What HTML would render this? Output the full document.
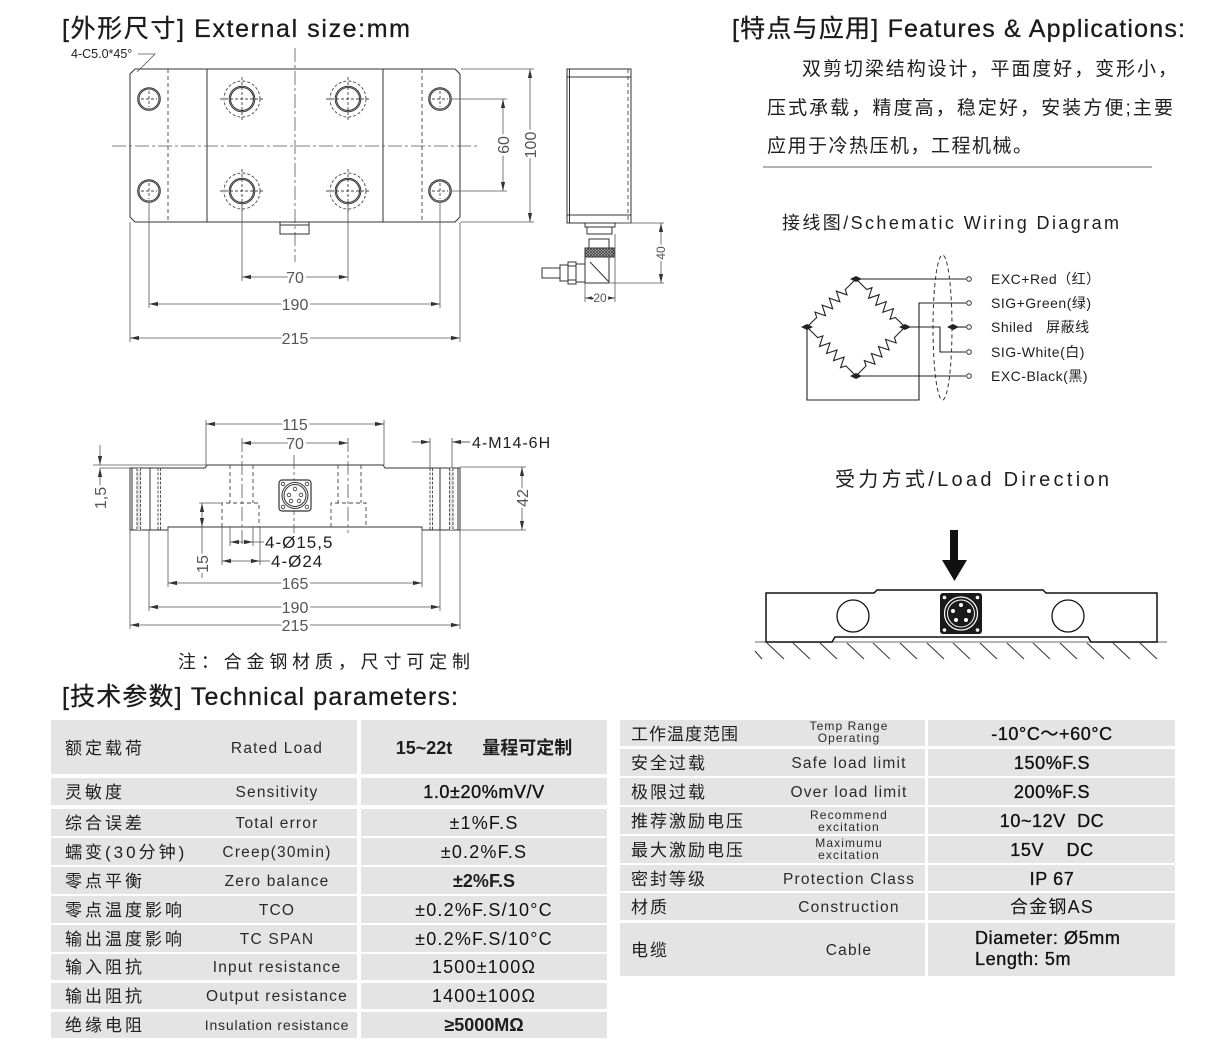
<!DOCTYPE html>
<html><head><meta charset="utf-8">
<style>
html,body{margin:0;padding:0;background:#fff;}
svg{display:block;}
text{font-family:"Liberation Sans","Noto Sans CJK SC",sans-serif;fill:#1e1e1e;}
.d{font-size:16px;fill:#555;paint-order:stroke;stroke:#fff;stroke-width:5px;stroke-linejoin:round;}
.ds{font-size:12px;fill:#555;paint-order:stroke;stroke:#fff;stroke-width:4px;}
.ln{stroke:#333;stroke-width:1;fill:none;}
.dm{stroke:#555;stroke-width:0.8;fill:none;}
.dash{stroke:#444;stroke-width:0.9;fill:none;stroke-dasharray:4 3;}
.cl{stroke:#555;stroke-width:0.8;fill:none;stroke-dasharray:14 3 3 3;}
.cell{fill:#e4e4e4;}
.cn{font-size:17px;letter-spacing:3px;}
.cnr{font-size:17px;letter-spacing:2px;}
.en{font-size:15.5px;letter-spacing:1.2px;fill:#2a2a2a;}
.va{font-size:18px;letter-spacing:1.2px;fill:#111;}
.vb{font-size:18px;letter-spacing:0.6px;fill:#111;stroke:#111;stroke-width:0.35px;}
.sm{font-size:12px;letter-spacing:1.1px;fill:#2a2a2a;}
.w{font-size:14px;letter-spacing:0.5px;fill:#1e1e1e;}
.tt{font-size:25px;fill:#1a1a1a;stroke:#1a1a1a;stroke-width:0.3px;}
</style></head><body>
<svg width="1221" height="1041" viewBox="0 0 1221 1041" xmlns="http://www.w3.org/2000/svg">
<defs>
<marker id="ar" markerWidth="9" markerHeight="6" refX="9" refY="3" orient="auto-start-reverse" markerUnits="userSpaceOnUse"><path d="M0,0.9 L9,3 L0,5.1z" fill="#333"/></marker>
<pattern id="kn" width="3" height="3" patternUnits="userSpaceOnUse"><rect width="3" height="3" fill="#bbb"/><path d="M0,0 L3,3 M3,0 L0,3" stroke="#333" stroke-width="0.7"/></pattern>
</defs>

<!-- ===== Titles ===== -->
<text class="tt" x="62" y="37" textLength="348">[外形尺寸] External size:mm</text>
<text class="tt" x="732" y="37" textLength="453">[特点与应用] Features &amp; Applications:</text>
<text class="tt" x="62" y="705" textLength="396">[技术参数] Technical parameters:</text>

<!-- ===== Features text ===== -->
<text x="802" y="75" font-size="19" textLength="375">双剪切梁结构设计，平面度好，变形小，</text>
<text x="767" y="114" font-size="19" textLength="406">压式承载，精度高，稳定好，安装方便;主要</text>
<text x="767" y="152" font-size="19" textLength="265">应用于冷热压机，工程机械。</text>
<line x1="763" y1="167" x2="1152" y2="167" stroke="#999" stroke-width="1.5"/>

<!-- ===== Top view ===== -->
<path class="ln" d="M135,69 H455 L460,74 V217 L455,222 H135 L130,217 V74 Z"/>
<line class="dash" x1="168" y1="69" x2="168" y2="222"/>
<line class="ln" x1="207" y1="69" x2="207" y2="222"/>
<line class="ln" x1="383" y1="69" x2="383" y2="222"/>
<line class="dash" x1="422" y1="69" x2="422" y2="222"/>
<line class="cl" x1="112" y1="146" x2="478" y2="146"/>
<line class="cl" x1="295" y1="48" x2="295" y2="262"/>
<g class="ln">
<circle cx="149" cy="99" r="10"/><circle cx="149" cy="99" r="11.3"/>
<circle cx="440" cy="99" r="10"/><circle cx="440" cy="99" r="11.3"/>
<circle cx="149" cy="191" r="10"/><circle cx="149" cy="191" r="11.3"/>
<circle cx="440" cy="191" r="10"/><circle cx="440" cy="191" r="11.3"/>
</g>
<g class="dash" style="stroke-dasharray:3 2">
<path d="M141,99 H157 M149,91 V107 M432,99 H448 M440,91 V107 M141,191 H157 M149,183 V199 M432,191 H448 M440,183 V199"/>
</g>
<g class="ln">
<circle cx="242" cy="99" r="11.5"/><circle cx="242" cy="99" r="12.8"/>
<circle cx="348" cy="99" r="11.5"/><circle cx="348" cy="99" r="12.8"/>
<circle cx="242" cy="191" r="11.5"/><circle cx="242" cy="191" r="12.8"/>
<circle cx="348" cy="191" r="11.5"/><circle cx="348" cy="191" r="12.8"/>
</g>
<g class="dash" style="stroke-dasharray:3 2">
<circle cx="242" cy="99" r="18"/><circle cx="348" cy="99" r="18"/>
<circle cx="242" cy="191" r="18"/><circle cx="348" cy="191" r="18"/>
<path d="M220,99 H264 M242,77 V121 M326,99 H370 M348,77 V121 M220,191 H264 M242,169 V213 M326,191 H370 M348,169 V213"/>
</g>
<rect class="ln" x="280" y="222" width="29" height="12"/>
<line class="ln" x1="280" y1="225" x2="309" y2="225"/>
<text x="71" y="58" font-size="12.5" fill="#555">4-C5.0*45°</text>
<polyline class="dm" points="138,54 155,54 137,72"/>
<g class="dm">
<line x1="242" y1="205" x2="242" y2="281"/><line x1="348" y1="205" x2="348" y2="281"/>
<line x1="149" y1="203" x2="149" y2="308"/><line x1="440" y1="203" x2="440" y2="308"/>
<line x1="130" y1="222" x2="130" y2="342"/><line x1="460" y1="222" x2="460" y2="342"/>
<line x1="452" y1="99" x2="507" y2="99"/><line x1="452" y1="191" x2="507" y2="191"/>
<line x1="461" y1="69" x2="534" y2="69"/><line x1="461" y1="222" x2="534" y2="222"/>
</g>
<g class="dm" marker-start="url(#ar)" marker-end="url(#ar)">
<line x1="242" y1="277" x2="348" y2="277"/>
<line x1="149" y1="304" x2="440" y2="304"/>
<line x1="130" y1="338" x2="460" y2="338"/>
<line x1="503" y1="99" x2="503" y2="191"/>
<line x1="530" y1="69" x2="530" y2="222"/>
</g>
<text class="d" x="295" y="283" text-anchor="middle">70</text>
<text class="d" x="295" y="310" text-anchor="middle">190</text>
<text class="d" x="295" y="344" text-anchor="middle">215</text>
<text class="d" transform="translate(509,145) rotate(-90)" text-anchor="middle">60</text>
<text class="d" transform="translate(536,145) rotate(-90)" text-anchor="middle">100</text>

<!-- ===== Side view ===== -->
<rect class="ln" x="567" y="69" width="64" height="154"/>
<line class="ln" x1="567" y1="77" x2="631" y2="77"/>
<line class="ln" x1="567" y1="215" x2="631" y2="215"/>
<line class="ln" x1="569.5" y1="69" x2="569.5" y2="223"/>
<line class="dash" x1="628" y1="69" x2="628" y2="223"/>
<rect class="ln" x="585" y="223" width="30" height="4"/>
<rect class="ln" x="587" y="227" width="25" height="7"/>
<rect class="ln" x="589" y="239" width="20" height="9"/>
<rect x="585" y="248" width="29" height="9" fill="url(#kn)" stroke="#333" stroke-width="1"/>
<rect class="ln" x="585" y="257" width="24" height="26"/>
<line class="ln" x1="590" y1="262" x2="609" y2="282"/>
<rect class="ln" x="576" y="264" width="9" height="18"/>
<rect class="ln" x="568" y="262" width="8" height="22"/>
<line class="ln" x1="568" y1="266" x2="576" y2="266"/><line class="ln" x1="568" y1="280" x2="576" y2="280"/>
<rect class="ln" x="560" y="265" width="8" height="16"/>
<rect class="ln" x="542" y="268" width="18" height="10"/>
<g class="dm">
<line x1="585" y1="283" x2="585" y2="302"/>
<line x1="615" y1="234" x2="615" y2="302"/>
<line x1="616" y1="223" x2="664" y2="223"/>
<line x1="610" y1="283" x2="664" y2="283"/>
</g>
<g class="dm" marker-start="url(#ar)" marker-end="url(#ar)">
<line x1="585" y1="298" x2="615" y2="298"/>
<line x1="661" y1="223" x2="661" y2="283"/>
</g>
<text class="ds" x="600" y="302" text-anchor="middle">20</text>
<text class="ds" transform="translate(665,253) rotate(-90)" text-anchor="middle">40</text>

<!-- ===== Bottom (front) view ===== -->
<path class="ln" d="M130,468 H205 L207,465 H383 L385,468 H460 V530 H422 V527 H168 V530 H130 Z"/>
<line class="ln" x1="132" y1="468" x2="132" y2="530"/>
<line class="ln" x1="458" y1="468" x2="458" y2="530"/>
<rect x="136.5" y="468" width="4" height="62" fill="#e2e2e2"/>
<rect x="449.5" y="468" width="4" height="62" fill="#e2e2e2"/>
<g class="dash" style="stroke-dasharray:3 1.5">
<line x1="137" y1="468" x2="137" y2="530"/><line x1="140.5" y1="468" x2="140.5" y2="530"/>
<line x1="158" y1="468" x2="158" y2="530"/><line x1="160.5" y1="468" x2="160.5" y2="530"/>
<line x1="430" y1="468" x2="430" y2="530"/><line x1="432.5" y1="468" x2="432.5" y2="530"/>
<line x1="449.5" y1="468" x2="449.5" y2="530"/><line x1="453" y1="468" x2="453" y2="530"/>
</g>
<line class="ln" x1="150" y1="468" x2="150" y2="530"/>
<line class="ln" x1="440" y1="468" x2="440" y2="530"/>
<g class="dash">
<line x1="230" y1="465" x2="230" y2="503"/><line x1="253" y1="465" x2="253" y2="503"/>
<path d="M222,527 V503 H259 V527"/>
<line x1="338" y1="465" x2="338" y2="503"/><line x1="361" y1="465" x2="361" y2="503"/>
<path d="M331,527 V503 H366 V527"/>
</g>
<line class="cl" x1="242" y1="438" x2="242" y2="547"/>
<line class="cl" x1="348" y1="438" x2="348" y2="533"/>
<line class="cl" x1="294" y1="455" x2="294" y2="533"/>
<rect x="279" y="480" width="32" height="31" rx="3" fill="#fff" stroke="#333" stroke-width="1.2"/>
<circle cx="295" cy="495.5" r="13" fill="none" stroke="#333" stroke-width="1"/>
<circle cx="295" cy="495.5" r="11" fill="none" stroke="#333" stroke-width="1"/>
<g fill="none" stroke="#333" stroke-width="0.8">
<circle cx="295" cy="489" r="1.8"/><circle cx="289" cy="495" r="1.8"/><circle cx="301" cy="495" r="1.8"/>
<circle cx="291" cy="501" r="1.8"/><circle cx="299" cy="501" r="1.8"/>
<circle cx="283" cy="484" r="1.8"/><circle cx="307" cy="484" r="1.8"/><circle cx="283" cy="507" r="1.8"/><circle cx="307" cy="507" r="1.8"/>
</g>
<g class="dm">
<line x1="206" y1="420" x2="206" y2="465"/><line x1="384" y1="420" x2="384" y2="465"/>
<line x1="430" y1="438" x2="430" y2="468"/><line x1="452" y1="438" x2="452" y2="468"/>
<line x1="452" y1="442" x2="470" y2="442"/>
<line x1="93" y1="465" x2="206" y2="465"/>
<line x1="100" y1="468" x2="130" y2="468"/>
<line x1="460" y1="467" x2="526" y2="467"/><line x1="460" y1="530" x2="526" y2="530"/>
<line x1="199" y1="503" x2="222" y2="503"/>
<line x1="202" y1="527" x2="202" y2="578"/>
<line x1="230" y1="527" x2="230" y2="546"/><line x1="253" y1="527" x2="253" y2="546"/>
<line x1="253" y1="542" x2="264" y2="542"/>
<line x1="222" y1="527" x2="222" y2="565"/><line x1="260" y1="527" x2="260" y2="565"/>
<line x1="260" y1="561" x2="270" y2="561"/>
<line x1="168" y1="528" x2="168" y2="587"/><line x1="422" y1="528" x2="422" y2="587"/>
<line x1="149" y1="530" x2="149" y2="611"/><line x1="440" y1="530" x2="440" y2="611"/>
<line x1="130" y1="530" x2="130" y2="629"/><line x1="460" y1="530" x2="460" y2="629"/>
</g>
<g class="dm" marker-end="url(#ar)">
<line x1="412" y1="442" x2="430" y2="442"/>
<line x1="470" y1="442" x2="452" y2="442"/>
<line x1="100" y1="445" x2="100" y2="465"/>
<line x1="100" y1="486" x2="100" y2="468"/>
</g>
<g class="dm" marker-start="url(#ar)" marker-end="url(#ar)">
<line x1="206" y1="424" x2="384" y2="424"/>
<line x1="242" y1="443" x2="348" y2="443"/>
<line x1="522" y1="467" x2="522" y2="530"/>
<line x1="202" y1="503" x2="202" y2="527"/>
<line x1="230" y1="542" x2="253" y2="542"/>
<line x1="222" y1="561" x2="260" y2="561"/>
<line x1="168" y1="583" x2="422" y2="583"/>
<line x1="149" y1="607" x2="440" y2="607"/>
<line x1="130" y1="625" x2="460" y2="625"/>
</g>
<text class="d" x="295" y="430" text-anchor="middle" font-size="17">115</text>
<text class="d" x="295" y="449" text-anchor="middle" font-size="17">70</text>
<text x="472" y="448" font-size="16" fill="#555" letter-spacing="1">4-M14-6H</text>
<text class="d" transform="translate(106,498) rotate(-90)" text-anchor="middle">1,5</text>
<text class="d" transform="translate(528,498) rotate(-90)" text-anchor="middle">42</text>
<text class="d" transform="translate(208,564) rotate(-90)" text-anchor="middle">15</text>
<text x="265" y="548" font-size="17" fill="#555" letter-spacing="1">4-Ø15,5</text>
<text x="271" y="567" font-size="17" fill="#555" letter-spacing="1">4-Ø24</text>
<text class="d" x="295" y="589" text-anchor="middle" font-size="17">165</text>
<text class="d" x="295" y="613" text-anchor="middle" font-size="17">190</text>
<text class="d" x="295" y="631" text-anchor="middle" font-size="17">215</text>
<text x="178" y="668" font-size="18" textLength="292">注：合金钢材质，尺寸可定制</text>

<!-- ===== Wiring diagram ===== -->
<text x="782" y="229" font-size="18" textLength="337">接线图/Schematic Wiring Diagram</text>
<g stroke="#222" stroke-width="1.1" fill="none">
<g transform="translate(856,279) rotate(135.6)"><path d="M0,0 H15 L17.5,-5 L22.5,5 L27.5,-5 L32.5,5 L37.5,-5 L42.5,5 L47.5,-5 L52.5,5 L55,0 H69"/></g>
<g transform="translate(856,279) rotate(44.4)"><path d="M0,0 H15 L17.5,-5 L22.5,5 L27.5,-5 L32.5,5 L37.5,-5 L42.5,5 L47.5,-5 L52.5,5 L55,0 H69"/></g>
<g transform="translate(807,327) rotate(45)"><path d="M0,0 H15 L17.5,-5 L22.5,5 L27.5,-5 L32.5,5 L37.5,-5 L42.5,5 L47.5,-5 L52.5,5 L55,0 H69.3"/></g>
<g transform="translate(905,327) rotate(135)"><path d="M0,0 H15 L17.5,-5 L22.5,5 L27.5,-5 L32.5,5 L37.5,-5 L42.5,5 L47.5,-5 L52.5,5 L55,0 H69.3"/></g>
<path d="M856,279 H966"/>
<path d="M807,327 V400 H919 V303 H966"/>
<path d="M905,327 H940 V352 H966"/>
<path d="M953,327 H966"/>
<path d="M856,376 H966"/>
</g>
<ellipse cx="942.5" cy="327.5" rx="9.5" ry="72.5" fill="none" stroke="#333" stroke-width="1" stroke-dasharray="4 3"/>
<g fill="#222">
<path d="M850,279 L856,276 L862,279 L856,282Z"/><path d="M801,327 L807,324 L813,327 L807,330Z"/>
<path d="M899,327 L905,324 L911,327 L905,330Z"/><path d="M850,376 L856,373 L862,376 L856,379Z"/>
<path d="M947,327 L953,324 L959,327 L953,330Z"/>
</g>
<g fill="#fff" stroke="#333" stroke-width="1">
<circle cx="969" cy="279" r="2.3"/><circle cx="969" cy="303" r="2.3"/><circle cx="969" cy="327" r="2.3"/>
<circle cx="969" cy="352" r="2.3"/><circle cx="969" cy="376" r="2.3"/>
</g>
<text class="w" x="991" y="284">EXC+Red（红）</text>
<text class="w" x="991" y="308">SIG+Green(绿)</text>
<text class="w" x="991" y="332" style="white-space:pre">Shiled   屏蔽线</text>
<text class="w" x="991" y="357">SIG-White(白)</text>
<text class="w" x="991" y="381">EXC-Black(黑)</text>

<!-- ===== Load direction ===== -->
<text x="835" y="486" font-size="20" textLength="274">受力方式/Load Direction</text>
<rect x="950" y="530" width="8" height="31" fill="#111"/>
<path d="M942,560 L967,560 L954.5,581 Z" fill="#111"/>
<line x1="755" y1="642" x2="1167" y2="642" stroke="#888" stroke-width="1.2"/>
<path d="M766,593 H874 L877,590 H1043 L1046,593 H1157 V642 H1091 L1088,637 H835 L832,642 H766 Z" fill="#fff" stroke="#111" stroke-width="1.5"/>
<circle cx="853" cy="616" r="16" fill="none" stroke="#111" stroke-width="1.3"/>
<circle cx="1068" cy="616" r="16" fill="none" stroke="#111" stroke-width="1.3"/>
<rect x="940" y="593" width="42" height="41" rx="3" fill="#1a1a1a"/>
<circle cx="961" cy="613.5" r="16.5" fill="none" stroke="#fff" stroke-width="1.2"/>
<circle cx="961" cy="613.5" r="13.5" fill="none" stroke="#fff" stroke-width="1"/>
<g fill="#fff">
<circle cx="961" cy="605" r="2"/><circle cx="953" cy="611" r="2"/><circle cx="969" cy="611" r="2"/>
<circle cx="956" cy="620" r="2"/><circle cx="966" cy="620" r="2"/>
<circle cx="944.5" cy="597.5" r="1.8"/><circle cx="977.5" cy="597.5" r="1.8"/>
<circle cx="944.5" cy="630" r="1.8"/><circle cx="977.5" cy="630" r="1.8"/>
</g>
<g stroke="#333" stroke-width="1">
<path d="M755,651 L762,659"/>
<path d="M767,643 L784,659 M793,643 L810,659 M820,643 L837,659 M847,643 L864,659 M873,643 L890,659 M900,643 L917,659 M927,643 L944,659 M953,643 L970,659 M980,643 L997,659 M1007,643 L1024,659 M1033,643 L1050,659 M1060,643 L1077,659 M1087,643 L1104,659 M1113,643 L1130,659 M1140,643 L1157,659"/>
</g>

<!-- ===== Left table ===== -->
<g class="cell">
<rect x="51" y="720" width="306" height="54"/><rect x="361" y="720" width="246" height="54"/>
<rect x="51" y="778" width="306" height="27"/><rect x="361" y="778" width="246" height="27"/>
<rect x="51" y="809" width="306" height="27"/><rect x="361" y="809" width="246" height="27"/>
<rect x="51" y="838" width="306" height="27"/><rect x="361" y="838" width="246" height="27"/>
<rect x="51" y="867" width="306" height="27"/><rect x="361" y="867" width="246" height="27"/>
<rect x="51" y="896" width="306" height="27"/><rect x="361" y="896" width="246" height="27"/>
<rect x="51" y="925" width="306" height="27"/><rect x="361" y="925" width="246" height="27"/>
<rect x="51" y="954" width="306" height="26"/><rect x="361" y="954" width="246" height="26"/>
<rect x="51" y="983" width="306" height="26"/><rect x="361" y="983" width="246" height="26"/>
<rect x="51" y="1012" width="306" height="26"/><rect x="361" y="1012" width="246" height="26"/>
</g>
<text class="cn" x="65" y="754">额定载荷</text>
<text class="cn" x="65" y="798">灵敏度</text>
<text class="cn" x="65" y="829">综合误差</text>
<text class="cn" x="65" y="858">蠕变(30分钟)</text>
<text class="cn" x="65" y="887">零点平衡</text>
<text class="cn" x="65" y="916">零点温度影响</text>
<text class="cn" x="65" y="945">输出温度影响</text>
<text class="cn" x="65" y="973">输入阻抗</text>
<text class="cn" x="65" y="1002">输出阻抗</text>
<text class="cn" x="65" y="1031">绝缘电阻</text>
<g text-anchor="middle">
<text class="en" x="277" y="753">Rated Load</text>
<text class="en" x="277" y="797">Sensitivity</text>
<text class="en" x="277" y="828">Total error</text>
<text class="en" x="277" y="857">Creep(30min)</text>
<text class="en" x="277" y="886">Zero balance</text>
<text class="en" x="277" y="915">TCO</text>
<text class="en" x="277" y="944">TC SPAN</text>
<text class="en" x="277" y="972">Input resistance</text>
<text class="en" x="277" y="1001">Output resistance</text>
<text class="en" x="277" y="1030" style="font-size:14px;letter-spacing:0.8px">Insulation resistance</text>
<text x="484" y="754" font-size="18" font-weight="bold" fill="#111" style="white-space:pre">15~22t      量程可定制</text>
<text class="vb" x="484" y="798">1.0±20%mV/V</text>
<text class="va" x="484" y="829">±1%F.S</text>
<text class="va" x="484" y="858">±0.2%F.S</text>
<text x="484" y="887" font-size="18" font-weight="bold" fill="#111">±2%F.S</text>
<text class="va" x="484" y="916">±0.2%F.S/10°C</text>
<text class="va" x="484" y="945">±0.2%F.S/10°C</text>
<text class="va" x="484" y="973">1500±100Ω</text>
<text class="va" x="484" y="1002">1400±100Ω</text>
<text x="484" y="1031" font-size="18" font-weight="bold" fill="#111">≥5000MΩ</text>
</g>

<!-- ===== Right table ===== -->
<g class="cell">
<rect x="620" y="720" width="305" height="26"/><rect x="928" y="720" width="247" height="26"/>
<rect x="620" y="749" width="305" height="27"/><rect x="928" y="749" width="247" height="27"/>
<rect x="620" y="778" width="305" height="27"/><rect x="928" y="778" width="247" height="27"/>
<rect x="620" y="807" width="305" height="27"/><rect x="928" y="807" width="247" height="27"/>
<rect x="620" y="836" width="305" height="27"/><rect x="928" y="836" width="247" height="27"/>
<rect x="620" y="865" width="305" height="26"/><rect x="928" y="865" width="247" height="26"/>
<rect x="620" y="893" width="305" height="27"/><rect x="928" y="893" width="247" height="27"/>
<rect x="620" y="923" width="305" height="53"/><rect x="928" y="923" width="247" height="53"/>
</g>
<text class="cnr" x="631" y="740" style="letter-spacing:1px">工作温度范围</text>
<text class="cnr" x="631" y="769">安全过载</text>
<text class="cnr" x="631" y="798">极限过载</text>
<text class="cnr" x="631" y="827">推荐激励电压</text>
<text class="cnr" x="631" y="856">最大激励电压</text>
<text class="cnr" x="631" y="885">密封等级</text>
<text class="cnr" x="631" y="913">材质</text>
<text class="cnr" x="631" y="956">电缆</text>
<g text-anchor="middle">
<text class="sm" x="849" y="730">Temp Range</text>
<text class="sm" x="849" y="742">Operating</text>
<text class="en" x="849" y="768">Safe load limit</text>
<text class="en" x="849" y="797">Over load limit</text>
<text class="sm" x="849" y="819">Recommend</text>
<text class="sm" x="849" y="831">excitation</text>
<text class="sm" x="849" y="847">Maximumu</text>
<text class="sm" x="849" y="859">excitation</text>
<text class="en" x="849" y="884">Protection Class</text>
<text class="en" x="849" y="912">Construction</text>
<text class="en" x="849" y="955">Cable</text>
<text class="vb" x="1052" y="740">-10°C～+60°C</text>
<text class="vb" x="1052" y="769">150%F.S</text>
<text class="vb" x="1052" y="798">200%F.S</text>
<text class="vb" x="1052" y="827" style="white-space:pre">10~12V  DC</text>
<text class="vb" x="1052" y="856" style="white-space:pre">15V    DC</text>
<text class="vb" x="1052" y="885">IP 67</text>
<text class="va" x="1052" y="913">合金钢AS</text>
</g>
<text class="vb" x="975" y="944">Diameter: Ø5mm</text>
<text class="vb" x="975" y="965">Length: 5m</text>
</svg>
</body></html>
